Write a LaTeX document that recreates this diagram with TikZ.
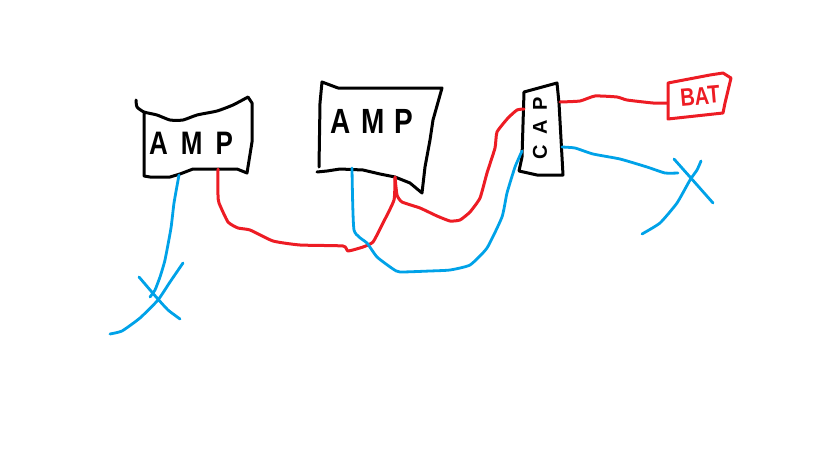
\documentclass[tikz,border=0pt]{standalone}
\usepackage{graphicx}
\usepackage{fontspec}
\setmainfont{Liberation Sans}
\definecolor{WireRed}{HTML}{ED1C24}
\definecolor{WireBlue}{HTML}{00A2E8}
\newcommand{\tallword}[1]{\scalebox{1}[1.25]{\bfseries #1}}
\tikzset{
  boxline/.style={line width=3pt, line join=round, line cap=round},
  redwire/.style={WireRed, line width=3pt, line join=round, line cap=round},
  bluewire/.style={WireBlue, line width=2.8pt, line join=round, line cap=round},
  handtext/.style={font=\fontsize{#1}{#1}\selectfont, inner sep=0pt}
}
\begin{document}
\begin{tikzpicture}[x=1pt, y=-1pt]
  \useasboundingbox (0,0) rectangle (819,460);

  % left amp
  \draw[boxline] plot[smooth, tension=0.35] coordinates {(136,100) (137,107) (144,112) (157,115) (170,120) (183,120) (197,115) (217,111) (233,105) (248,97)}
    -- (252,103) -- (252,142) -- (247,173) -- (237,169) -- (193,169) -- (180,174) -- (170,177) -- (150,177) -- (144,176) -- (144,112);
  \node[handtext=26] (ampleft) at (191,143) {\tallword{A\hspace{13pt}M\hspace{13pt}P}};

  % right amp
  \draw[boxline] (317,172) -- (327,171) -- (340,169) -- (363,170) -- (380,174) -- (395,177) -- (410,183) -- (422,193)
    -- (425,167) -- (430,140) -- (433,120) -- (442,88) -- (338,88) -- (322,82) -- (320,103) -- (319,167);
  \node[handtext=28] (ampright) at (372,121) {\tallword{A\hspace{10pt}M\hspace{10pt}P}};

  % cap and battery
  \draw[boxline] (524,92) -- (557,83) -- (559,103) -- (563,175) -- (537,175) -- (519,171) -- (522,157) -- cycle;
  \node[handtext=20, rotate=90] (cap) at (540,128) {\bfseries C\hspace{10pt}A\hspace{10pt}P};
  \draw[redwire] (668,83) -- (710,75) -- (723,73) -- (731,78) -- (725,103) -- (723,113) -- (668,119) -- cycle;
  \node[handtext=20, text=WireRed, rotate=5] (bat) at (700,96) {\tallword{BAT}};

  % wire ends
  \coordinate (ampleftblue) at (179,175);
  \coordinate (ampleftred) at (218,169);
  \coordinate (amprightblue) at (352,168);
  \coordinate (amprightred) at (395,177);
  \coordinate (capredin) at (524,109);
  \coordinate (capredout) at (560,102);
  \coordinate (capbluein) at (522,151);
  \coordinate (capblueout) at (562,147);
  \coordinate (batred) at (667,103);
  \coordinate (groundleft) at (150,297);
  \coordinate (groundright) at (678,173);

  % red wires
  \draw[redwire] plot[smooth, tension=0.3] coordinates {(ampleftred) (218,195) (219,203) (228,222) (238,228) (250,230) (273,241) (300,245) (343,246) (348,251) (363,247) (373,242) (383,223) (394,200) (amprightred)};
  \draw[redwire] plot[smooth, tension=0.3] coordinates {(amprightred) (397,195) (402,202) (420,208) (437,216) (450,221) (460,220) (470,212) (480,198) (487,173) (495,148) (497,132) (508,118) (517,110) (capredin)};
  \draw[redwire] plot[smooth, tension=0.3] coordinates {(capredout) (580,101) (595,96) (617,97) (627,100) (653,103) (batred)};

  % blue wires
  \draw[bluewire] plot[smooth, tension=0.3] coordinates {(ampleftblue) (174,203) (171,228) (165,260) (160,277) (155,290) (groundleft)};
  \draw[bluewire] plot[smooth, tension=0.3] coordinates {(amprightblue) (354,230) (367,243) (377,257) (393,269) (400,272) (430,271) (450,270) (470,265) (487,248) (502,217) (507,193) (515,167) (capbluein)};
  \draw[bluewire] plot[smooth, tension=0.3] coordinates {(capblueout) (575,148) (593,154) (620,159) (647,167) (665,173) (groundright)};

  % ground crosses
  \draw[bluewire] plot[smooth, tension=0.3] coordinates {(139,277) (157,298) (168,310) (180,319)};
  \draw[bluewire] plot[smooth, tension=0.3] coordinates {(183,263) (170,282) (158,300) (140,318) (122,331) (110,334)};
  \draw[bluewire] plot[smooth, tension=0.3] coordinates {(674,159) (690,177) (713,203)};
  \draw[bluewire] plot[smooth, tension=0.3] coordinates {(701,161) (697,170) (690,180) (677,203) (660,223) (642,234)};
\end{tikzpicture}
\end{document}
